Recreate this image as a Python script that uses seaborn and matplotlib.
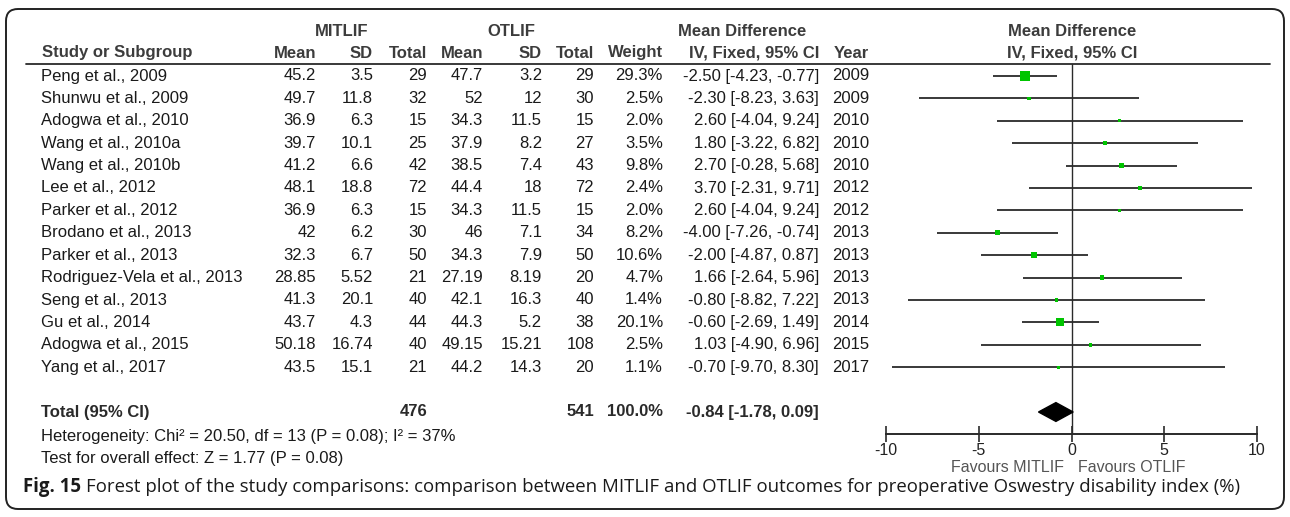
import matplotlib
matplotlib.use("Agg")
import matplotlib.pyplot as plt
import seaborn as sns
import pandas as pd
from matplotlib import transforms
from matplotlib.patches import FancyBboxPatch

studies = ["Peng et al., 2009", "Shunwu et al., 2009", "Adogwa et al., 2010",
           "Wang et al., 2010a", "Wang et al., 2010b", "Lee et al., 2012",
           "Parker et al., 2012", "Brodano et al., 2013", "Parker et al., 2013",
           "Rodriguez-Vela et al., 2013", "Seng et al., 2013", "Gu et al., 2014",
           "Adogwa et al., 2015", "Yang et al., 2017"]
mit_mean = [45.2, 49.7, 36.9, 39.7, 41.2, 48.1, 36.9, 42, 32.3, 28.85, 41.3, 43.7, 50.18, 43.5]
mit_sd = [3.5, 11.8, 6.3, 10.1, 6.6, 18.8, 6.3, 6.2, 6.7, 5.52, 20.1, 4.3, 16.74, 15.1]
mit_n = [29, 32, 15, 25, 42, 72, 15, 30, 50, 21, 40, 44, 40, 21]
ot_mean = [47.7, 52, 34.3, 37.9, 38.5, 44.4, 34.3, 46, 34.3, 27.19, 42.1, 44.3, 49.15, 44.2]
ot_sd = [3.2, 12, 11.5, 8.2, 7.4, 18, 11.5, 7.1, 7.9, 8.19, 16.3, 5.2, 15.21, 14.3]
ot_n = [29, 30, 15, 27, 43, 72, 15, 34, 50, 20, 40, 38, 108, 20]
weights = [29.3, 2.5, 2.0, 3.5, 9.8, 2.4, 2.0, 8.2, 10.6, 4.7, 1.4, 20.1, 2.5, 1.1]
md = [-2.50, -2.30, 2.60, 1.80, 2.70, 3.70, 2.60, -4.00, -2.00, 1.66, -0.80, -0.60, 1.03, -0.70]
ci_lo = [-4.23, -8.23, -4.04, -3.22, -0.28, -2.31, -4.04, -7.26, -4.87, -2.64, -8.82, -2.69, -4.90, -9.70]
ci_hi = [-0.77, 3.63, 9.24, 6.82, 5.68, 9.71, 9.24, -0.74, 0.87, 5.96, 7.22, 1.49, 6.96, 8.30]
years = [2009, 2009, 2010, 2010, 2010, 2012, 2012, 2013, 2013, 2013, 2013, 2014, 2015, 2017]

total_mit_n = 476
total_ot_n = 541
pooled_md, pooled_lo, pooled_hi = -0.84, -1.78, 0.09
heterogeneity = "Heterogeneity: Chi\u00b2 = 20.50, df = 13 (P = 0.08); I\u00b2 = 37%"
overall = "Test for overall effect: Z = 1.77 (P = 0.08)"
x_ticks = [-10, -5, 0, 5, 10]

df = pd.DataFrame({"study": studies, "md": md, "lo": ci_lo, "hi": ci_hi,
                   "weight": weights, "row": range(len(studies))})

sns.set_theme(style="white")
plt.rcParams["font.family"] = ["Liberation Sans", "DejaVu Sans"]

W, H = 1290, 517
fig = plt.figure(figsize=(W / 100, H / 100), dpi=100)
fig.patch.set_facecolor("white")

# full-figure overlay in pixel units
ax0 = fig.add_axes([0, 0, 1, 1])
ax0.set_xlim(0, W)
ax0.set_ylim(H, 0)
ax0.axis("off")

# forest panel: -10..10 spans px 886..1257, rows start at y=76, step 22.4
row0, step = 76, 22.4
top_px, bot_px = 63.5, 434
axf = fig.add_axes([886 / W, (H - bot_px) / H, 371 / W, (bot_px - top_px) / H])
axf.set_xlim(-10, 10)
axf.set_ylim((bot_px - row0) / step, (top_px - row0) / step)
axf.patch.set_alpha(0)
for s in ["top", "left", "right"]:
    axf.spines[s].set_visible(False)
axf.spines["bottom"].set_color("#2a2a2a")
axf.spines["bottom"].set_linewidth(1.4)

line_col = "#2a2a2a"
axf.axvline(0, color=line_col, lw=1.0, zorder=1)
axf.hlines(df["row"], df["lo"], df["hi"], color=line_col, lw=1.3, zorder=2)
sns.scatterplot(data=df, x="md", y="row", size="weight", sizes=(4.5, 46),
                marker="s", color="#00c400", linewidth=0, legend=False, ax=axf, zorder=3)
total_row = len(studies) + 1
dh = 0.42
axf.fill([pooled_lo, pooled_md, pooled_hi, pooled_md],
         [total_row, total_row - dh, total_row, total_row + dh], color="black", zorder=3)

axf.set_xticks(x_ticks)
axf.set_xticklabels([str(t) for t in x_ticks])
axf.set_yticks([])
axf.set_xlabel("")
axf.set_ylabel("")
axf.tick_params(axis="x", direction="inout", length=11, width=1.2, color=line_col,
                labelsize=11.5, labelcolor="#222222", pad=1, bottom=True)

# table text: x in pixels, y in row units
tr = transforms.blended_transform_factory(ax0.transData, axf.transData)
fs = 12
body = dict(fontsize=fs, color="#1a1a1a", transform=tr, va="center", clip_on=False)
head = dict(fontsize=fs, color="#3c3c3c", fontweight="bold", va="center")

cols = {"mm": 316, "ms": 373, "mn": 427, "om": 483, "os": 542, "on": 594,
        "w": 663, "ci": 819, "yr": 869}

for i in range(len(studies)):
    ax0.text(41, i, studies[i], ha="left", **body)
    ax0.text(cols["mm"], i, f"{mit_mean[i]:g}", ha="right", **body)
    ax0.text(cols["ms"], i, f"{mit_sd[i]:g}", ha="right", **body)
    ax0.text(cols["mn"], i, str(mit_n[i]), ha="right", **body)
    ax0.text(cols["om"], i, f"{ot_mean[i]:g}", ha="right", **body)
    ax0.text(cols["os"], i, f"{ot_sd[i]:g}", ha="right", **body)
    ax0.text(cols["on"], i, str(ot_n[i]), ha="right", **body)
    ax0.text(cols["w"], i, f"{weights[i]:.1f}%", ha="right", **body)
    ax0.text(cols["ci"], i, f"{md[i]:.2f} [{ci_lo[i]:.2f}, {ci_hi[i]:.2f}]", ha="right", **body)
    ax0.text(cols["yr"], i, str(years[i]), ha="right", **body)

bold = dict(body, fontweight="bold", color="#2a2a2a")
ax0.text(41, total_row, "Total (95% CI)", ha="left", **bold)
ax0.text(cols["mn"], total_row, str(total_mit_n), ha="right", **bold)
ax0.text(cols["on"], total_row, str(total_ot_n), ha="right", **bold)
ax0.text(cols["w"], total_row, "100.0%", ha="right", **bold)
ax0.text(cols["ci"], total_row, f"{pooled_md:.2f} [{pooled_lo:.2f}, {pooled_hi:.2f}]",
         ha="right", **bold)

ax0.text(41, 436, heterogeneity, ha="left", fontsize=fs, color="#1a1a1a", va="center")
ax0.text(41, 459, overall, ha="left", fontsize=fs, color="#1a1a1a", va="center")

# headers
ax0.text(342, 32, "MITLIF", ha="center", **head)
ax0.text(511, 32, "OTLIF", ha="center", **head)
ax0.text(742, 32, "Mean Difference", ha="center", **head)
ax0.text(1072, 32, "Mean Difference", ha="center", **head)
ax0.text(42, 53, "Study or Subgroup", ha="left", **head)
for key, lab in [("mm", "Mean"), ("ms", "SD"), ("mn", "Total"), ("om", "Mean"),
                 ("os", "SD"), ("on", "Total"), ("w", "Weight"),
                 ("ci", "IV, Fixed, 95% CI"), ("yr", "Year")]:
    ax0.text(cols[key], 53, lab, ha="right", **head)
ax0.text(1072, 53, "IV, Fixed, 95% CI", ha="center", **head)
ax0.plot([26, 1270], [63.5, 63.5], color="#2a2a2a", lw=1.3)

# favours labels
ax0.text(1064, 467, "Favours MITLIF", ha="right", va="center", fontsize=11.5, color="#555555")
ax0.text(1078, 467, "Favours OTLIF", ha="left", va="center", fontsize=11.5, color="#555555")

# caption
cap_font = ["Open Sans", "DejaVu Sans"]
cap_y = 487
t1 = ax0.text(23, cap_y, "Fig. 15", ha="left", va="center", fontsize=13.45, fontweight="bold",
              family=cap_font, color="#1a1a1a")
fig.canvas.draw()
bb = t1.get_window_extent()
x_end = ax0.transData.inverted().transform((bb.x1, 0))[0]
ax0.text(x_end + 5, cap_y, "Forest plot of the study comparisons: comparison between MITLIF and "
         "OTLIF outcomes for preoperative Oswestry disability index (%)",
         ha="left", va="center", fontsize=13.45, family=cap_font, color="#1a1a1a")

# rounded frame
frame = FancyBboxPatch((6, 9), W - 12, H - 17, boxstyle="round,pad=0,rounding_size=12",
                       fill=False, edgecolor="#222222", lw=1.4)
ax0.add_patch(frame)

fig.savefig("out.png", dpi=100, facecolor="white")
